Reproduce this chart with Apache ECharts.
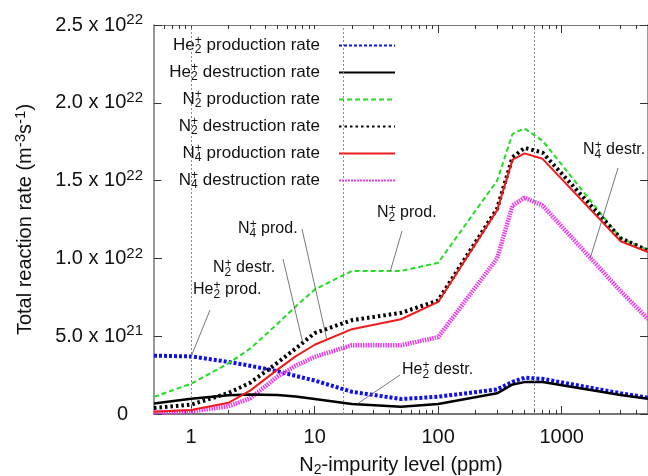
<!DOCTYPE html>
<html>
<head>
<meta charset="utf-8">
<script src="https://cdn.jsdelivr.net/npm/echarts@6/dist/echarts.min.js"></script>
<style>
  html, body { margin: 0; padding: 0; background: #fff; }
  #chart { width: 648px; height: 476px; }
</style>
</head>
<body>
<div id="chart"></div>
<script>
// N2 impurity level (ppm)
var impurity = [0.5, 1, 2, 3, 5, 7, 10, 20, 50, 100, 300, 400, 500, 700, 3000, 5000];

// reaction rates, in units of 1e21 m^-3 s^-1
var he2Prod  = [3.75, 3.7, 3.35, 3.1, 2.75, 2.45, 2.15, 1.43, 0.96, 1.11, 1.58, 2.07, 2.33, 2.26, 1.33, 1.05];
var he2Destr = [0.68, 0.98, 1.2, 1.25, 1.22, 1.12, 0.96, 0.64, 0.47, 0.64, 1.33, 1.9, 2.05, 2.05, 1.22, 0.98];
var n2Prod   = [1.1, 1.95, 3.25, 4.2, 5.8, 6.9, 8.0, 9.19, 9.19, 9.72, 15.0, 18.0, 18.35, 17.56, 11.3, 10.55];
var n2Destr  = [0.38, 0.6, 1.35, 2.0, 3.3, 4.2, 5.2, 6.03, 6.5, 7.3, 13.2, 16.5, 17.1, 16.8, 11.3, 10.5];
var n4Prod   = [0.15, 0.26, 0.72, 1.5, 2.85, 3.7, 4.45, 5.45, 6.09, 7.2, 13.1, 16.35, 16.75, 16.4, 11.1, 10.4];
var n4Destr  = [0.1, 0.17, 0.5, 1.0, 2.4, 3.1, 3.67, 4.42, 4.42, 4.94, 10.0, 13.4, 13.9, 13.4, 7.9, 6.1];

var xMajor = [1, 10, 100, 1000];
var xMinor = [0.6, 0.7, 0.8, 0.9, 2, 3, 4, 5, 6, 7, 8, 9, 20, 30, 40, 50, 60, 70, 80, 90,
              200, 300, 400, 500, 600, 700, 800, 900, 2000, 3000, 4000, 5000];
var guideLines = [1, 17, 600];

var FONT = '"Liberation Sans", Arial, Helvetica, sans-serif';

var rich = {
    t: { fontFamily: FONT, color: '#111', align: 'left' },
    z: { fontSize: 20, fontFamily: FONT, color: '#111', padding: [0, 15, 0, 0] },
    sub: { fontSize: 12, fontFamily: FONT, color: '#111', padding: [9, 0, 0, 0], width: 0.1, align: 'left' },
    sup: { fontSize: 12, fontFamily: FONT, color: '#111', padding: [0, 0, 9, 0], align: 'left' },
    sub2: { fontSize: 14, fontFamily: FONT, color: '#111', padding: [10, 0, 0, 0] },
    supy: { fontSize: 15, fontFamily: FONT, color: '#111', padding: [0, 0, 10, 0] }
};

var legendText = {
    'He2+ production rate': '{t|He}{sub|2}{sup|+}{t| production rate}',
    'He2+ destruction rate': '{t|He}{sub|2}{sup|+}{t| destruction rate}',
    'N2+ production rate': '{t|N}{sub|2}{sup|+}{t| production rate}',
    'N2+ destruction rate': '{t|N}{sub|2}{sup|+}{t| destruction rate}',
    'N4+ production rate': '{t|N}{sub|4}{sup|+}{t| production rate}',
    'N4+ destruction rate': '{t|N}{sub|4}{sup|+}{t| destruction rate}'
};

function pairs(ys) {
    return impurity.map(function (x, i) { return [x, ys[i]]; });
}

function makeSeries(name, ys, color, width, type, z) {
    return {
        name: name,
        type: 'line',
        data: pairs(ys),
        symbol: 'none',
        smooth: false,
        z: z,
        lineStyle: { color: color, width: width, type: type },
        itemStyle: { color: color },
        emphasis: { disabled: true }
    };
}

var series = [
    makeSeries('He2+ production rate', he2Prod, '#1010ee', 4, [3, 2], 3),
    makeSeries('He2+ destruction rate', he2Destr, '#000000', 2.5, 'solid', 4),
    makeSeries('N2+ production rate', n2Prod, '#22dd22', 2, [5, 3], 3),
    makeSeries('N2+ destruction rate', n2Destr, '#000000', 4, [2.5, 3], 3),
    makeSeries('N4+ production rate', n4Prod, '#ee1c1c', 2, 'solid', 5),
    makeSeries('N4+ destruction rate', n4Destr, '#e83ce8', 4.5, [1.5, 1], 3)
];

series[0].markLine = {
    silent: true,
    symbol: 'none',
    label: { show: false },
    lineStyle: { color: '#888', width: 1, type: [2, 2] },
    data: guideLines.map(function (v) { return { xAxis: v }; })
};

var axisColor = '#777';

function xAxisDef(pos, ticks, len, showLine, showLabel) {
    return {
        type: 'log',
        logBase: 10,
        min: 0.5,
        max: 5000,
        position: pos,
        gridIndex: 0,
        axisLine: { show: showLine, onZero: false, lineStyle: { color: axisColor, width: pos === 'bottom' ? 2 : 1.2 } },
        axisTick: { show: true, inside: true, length: len, customValues: ticks, lineStyle: { color: '#333', width: 1 } },
        axisLabel: {
            show: showLabel,
            customValues: xMajor,
            formatter: function (v) { return String(v); },
            margin: 13,
            fontSize: 20,
            fontFamily: FONT,
            color: '#111'
        },
        splitLine: { show: false },
        minorTick: { show: false }
    };
}

var xAxes = [
    xAxisDef('bottom', xMajor, 8, true, true),
    xAxisDef('bottom', xMinor, 4, false, false),
    xAxisDef('top', xMajor, 8, true, false),
    xAxisDef('top', xMinor, 4, false, false)
];
xAxes[0].name = 'N{sub2|2}-impurity level (ppm)';
xAxes[0].nameLocation = 'middle';
xAxes[0].nameGap = 39;
xAxes[0].nameTextStyle = { fontSize: 20, fontFamily: FONT, color: '#111', rich: rich };

function yLabel(v) {
    if (v === 0) return '{z|0}';
    if (v >= 10) return (v / 10).toFixed(1) + ' x 10{supy|22}';
    return v.toFixed(1) + ' x 10{supy|21}';
}

var yAxes = [
    {
        type: 'value',
        min: 0,
        max: 25,
        interval: 5,
        position: 'left',
        name: 'Total reaction rate (m{supy|-3}s{supy|-1})',
        nameLocation: 'middle',
        nameGap: 116,
        nameTextStyle: { fontSize: 20, fontFamily: FONT, color: '#111', rich: rich },
        axisLine: { show: true, lineStyle: { color: axisColor, width: 1.5 } },
        axisTick: { show: true, inside: true, length: 8, lineStyle: { color: '#333' } },
        axisLabel: { formatter: yLabel, margin: 11, fontSize: 20, fontFamily: FONT, color: '#111', rich: rich },
        splitLine: { show: false }
    },
    {
        type: 'value',
        min: 0,
        max: 25,
        interval: 5,
        position: 'right',
        axisLine: { show: true, lineStyle: { color: axisColor, width: 1.5 } },
        axisTick: { show: true, inside: true, length: 8, lineStyle: { color: '#333' } },
        axisLabel: { show: false },
        splitLine: { show: false }
    }
];

var legendData = series.map(function (s) { return { name: s.name }; });
// the fine magenta hatch reads better with a slightly longer dash in the key
legendData[5].lineStyle = { type: [2, 1] };

var chart = echarts.init(document.getElementById('chart'), null, { renderer: 'canvas' });

chart.setOption({
    animation: false,
    backgroundColor: '#fff',
    grid: { left: 154, top: 25, right: 0, bottom: 62, containLabel: false, outerBoundsMode: 'none' },
    legend: {
        orient: 'vertical',
        right: 244,
        top: 29,
        align: 'right',
        itemWidth: 56,
        itemHeight: 12,
        itemGap: 6,
        padding: [6, 8, 8, 8],
        backgroundColor: '#fff',
        selectedMode: false,
        itemStyle: { opacity: 0 },
        data: legendData,
        formatter: function (name) { return legendText[name]; },
        textStyle: { fontSize: 17, fontFamily: FONT, color: '#111', rich: rich, padding: [0, 14, 0, 0] }
    },
    xAxis: xAxes,
    yAxis: yAxes,
    series: series
});

// annotations: text at fixed layout spots, leader line ends anchored to data coords
var notes = [
    { text: 'He{sub|2}{sup|+} prod.', x: 193, y: 290, from: [210, 310], to: [1, 3.7] },
    { text: 'N{sub|2}{sup|+} destr.', x: 213, y: 268, from: [283, 259], to: [8, 4.6] },
    { text: 'N{sub|4}{sup|+} prod.', x: 238, y: 229, from: [302, 229], to: [12.5, 4.85] },
    { text: 'N{sub|2}{sup|+} prod.', x: 377, y: 213, from: [402, 231], to: [41, 9.19] },
    { text: 'He{sub|2}{sup|+} destr.', x: 402, y: 370, from: [400, 375], to: [22, 0.64] },
    { text: 'N{sub|4}{sup|+} destr.', x: 583, y: 150, from: [618, 168], to: [1700, 10.0] }
];

var graphics = [];
notes.forEach(function (n) {
    var end = chart.convertToPixel({ xAxisIndex: 0, yAxisIndex: 0 }, n.to);
    graphics.push({
        type: 'line',
        silent: true,
        z: 50,
        shape: { x1: n.from[0], y1: n.from[1], x2: end[0], y2: end[1] },
        style: { stroke: '#555', lineWidth: 0.8 }
    });
    graphics.push({
        type: 'text',
        silent: true,
        z: 50,
        x: n.x,
        y: n.y,
        style: {
            text: n.text,
            fontSize: 16,
            fontFamily: FONT,
            fill: '#111',
            verticalAlign: 'middle',
            align: 'left',
            rich: rich
        }
    });
});

chart.setOption({ graphic: graphics });
</script>
</body>
</html>
